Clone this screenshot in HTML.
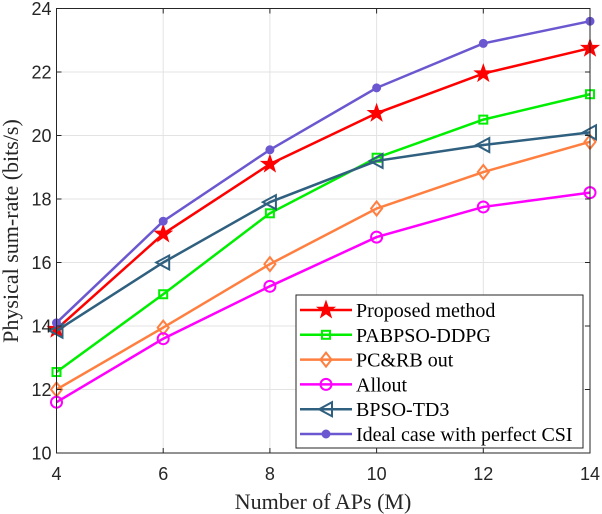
<!DOCTYPE html>
<html><head><meta charset="utf-8"><style>
body{margin:0;background:#fff}
svg{display:block}
</style></head><body>
<svg id="chart" width="602" height="514" viewBox="0 0 602 514" xmlns="http://www.w3.org/2000/svg">
<g id="grid"></g>
<g id="series"></g>
<rect x="56.5" y="8.5" width="533.5" height="444.5" fill="none" stroke="#262626" stroke-width="1"/>
<g id="ticks"></g>
<text x="323" y="509" text-anchor="middle" font-family="Liberation Serif, serif" font-size="22" fill="#262626">Number of APs (M)</text>
<text transform="translate(18,231) rotate(-90)" text-anchor="middle" font-family="Liberation Serif, serif" font-size="22" fill="#262626">Physical sum-rate (bits/s)</text>
<g id="legend"></g>
</svg>
<script>
const xValues=[4,6,8,10,12,14];
const xTicks=[4,6,8,10,12,14];
const yTicks=[10,12,14,16,18,20,22,24];
const seriesNames=["Proposed method","PABPSO-DDPG","PC&RB out","Allout","BPSO-TD3","Ideal case with perfect CSI"];
const proposed=[13.9,16.9,19.1,20.7,21.95,22.75];
const pabpso=[12.55,15.0,17.55,19.3,20.5,21.3];
const pcrb=[12.0,13.95,15.95,17.7,18.85,19.8];
const allout=[11.6,13.6,15.25,16.8,17.75,18.2];
const bpso=[13.85,16.0,17.9,19.2,19.7,20.1];
const ideal=[14.1,17.3,19.55,21.5,22.9,23.6];

const NS="http://www.w3.org/2000/svg";
const X0=56.5,X1=590,Y0=453,Y1=8.5;
const xs=v=>X0+(v-4)/(14-4)*(X1-X0);
const ys=v=>Y0-(v-10)/(24-10)*(Y0-Y1);
function mk(t,a,p){const e=document.createElementNS(NS,t);for(const k in a)e.setAttribute(k,a[k]);p.appendChild(e);return e;}
const grid=document.getElementById('grid'),ticks=document.getElementById('ticks');
xTicks.forEach(v=>{
 const g=mk('line',{x1:xs(v),x2:xs(v),y1:Y1,y2:Y0,stroke:'#e3e3e3','stroke-width':1},grid);
 
 
 const t=mk('line',{x1:xs(v),x2:xs(v),y1:Y0,y2:Y0-5,stroke:'#262626'},ticks);
 
 
 const t2=mk('line',{x1:xs(v),x2:xs(v),y1:Y1,y2:Y1+5,stroke:'#262626'},ticks);
 
 
 const l=mk('text',{x:xs(v),y:Y0+27,'text-anchor':'middle','font-family':'Liberation Sans, sans-serif','font-size':18,fill:'#262626'},ticks);
 l.textContent=v;
 
 
});
yTicks.forEach(v=>{
 const g=mk('line',{x1:X0,x2:X1,y1:ys(v),y2:ys(v),stroke:'#e3e3e3','stroke-width':1},grid);
 
 
 const t=mk('line',{x1:X0,x2:X0+5,y1:ys(v),y2:ys(v),stroke:'#262626'},ticks);
 
 
 const t2=mk('line',{x1:X1,x2:X1-5,y1:ys(v),y2:ys(v),stroke:'#262626'},ticks);
 
 
 const l=mk('text',{x:X0-5,y:ys(v)+6.5,'text-anchor':'end','font-family':'Liberation Sans, sans-serif','font-size':18,fill:'#262626'},ticks);
 l.textContent=v;
 
 
});
const seriesData=[proposed,pabpso,pcrb,allout,bpso,ideal];
const colors=['#ff0000','#00ee00','#ff7f40','#ff00ff','#30607f','#6b58d0'];
const markers=['star','square','diamond','circle','triangle','dot'];
function marker(type,x,y,c,p){
 let e;
 if(type==='star'){let pts=[];for(let i=0;i<10;i++){const r=i%2?3.6:9,a=-Math.PI/2+i*Math.PI/5;pts.push((x+r*Math.cos(a)).toFixed(1)+','+(y+r*Math.sin(a)).toFixed(1));}
  e=mk('polygon',{points:pts.join(' '),fill:c,stroke:c,'stroke-width':1},p);}
 else if(type==='square')e=mk('rect',{x:x-4,y:y-4,width:8,height:8,fill:'none',stroke:c,'stroke-width':2},p);
 else if(type==='diamond')e=mk('polygon',{points:`${x},${y-7} ${x+5.5},${y} ${x},${y+7} ${x-5.5},${y}`,fill:'none',stroke:c,'stroke-width':2},p);
 else if(type==='circle')e=mk('circle',{cx:x,cy:y,r:5.5,fill:'none',stroke:c,'stroke-width':2},p);
 else if(type==='triangle')e=mk('polygon',{points:`${x-7},${y} ${x+6},${y-7} ${x+6},${y+7}`,fill:'none',stroke:c,'stroke-width':2},p);
 else e=mk('circle',{cx:x,cy:y,r:4,fill:c,stroke:c},p);
 return e;
}
const sg=document.getElementById('series');
seriesData.forEach((d,i)=>{
 const g=mk('g',{},sg);
 
 
 const pl=mk('polyline',{points:d.map((v,j)=>xs(xValues[j])+','+ys(v)).join(' '),fill:'none',stroke:colors[i],'stroke-width':2.5},g);
 
 
 d.forEach((v,j)=>{const m=marker(markers[i],xs(xValues[j]),ys(v),colors[i],g);
  
  });
});
const lg=document.getElementById('legend');
const box=mk('rect',{x:296,y:295,width:287,height:153,fill:'#fff',stroke:'#262626','stroke-width':1},lg);


seriesNames.forEach((n,i)=>{
 const y=310+i*24.8;
 const g=mk('g',{},lg);
 
 
 mk('line',{x1:300,x2:352,y1:y,y2:y,stroke:colors[i],'stroke-width':2.5},g);
 marker(markers[i],326,y,colors[i],g);
 const t=mk('text',{x:356,y:y+7,'font-family':'Liberation Serif, serif','font-size':20,fill:'#000'},g);
 t.textContent=n;
});
</script>
</body></html>
